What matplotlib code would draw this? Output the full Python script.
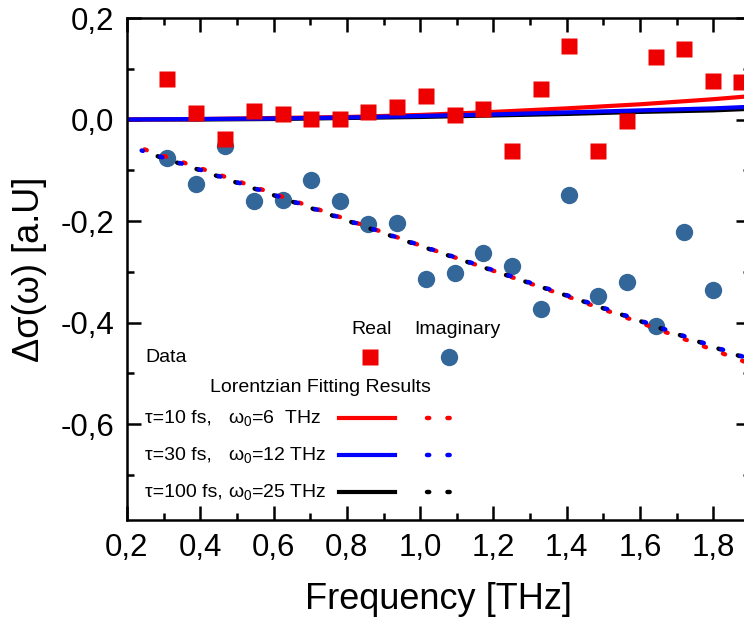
import matplotlib
matplotlib.use('Agg')
import matplotlib.pyplot as plt
from matplotlib.lines import Line2D
from matplotlib.ticker import MultipleLocator, FuncFormatter

plt.rcParams['font.family'] = ['Liberation Sans', 'DejaVu Sans']
plt.rcParams['mathtext.fontset'] = 'custom'
plt.rcParams['mathtext.rm'] = 'Liberation Sans'
plt.rcParams['mathtext.it'] = 'Liberation Sans'

#--- measured data ---
freq = [0.309, 0.388, 0.467, 0.547, 0.626, 0.702, 0.781, 0.858, 0.937, 1.016,
        1.095, 1.171, 1.250, 1.330, 1.406, 1.485, 1.564, 1.643, 1.720, 1.799, 1.875]
real_data = [0.079, 0.012, -0.039, 0.016, 0.010, 0.002, 0.002, 0.014, 0.024, 0.046,
             0.008, 0.021, -0.062, 0.060, 0.144, -0.063, -0.003, 0.123, 0.139, 0.075, 0.074]
imag_freq = freq[:20]
imag_data = [-0.075, -0.127, -0.052, -0.160, -0.158, -0.119, -0.161, -0.206, -0.204, -0.315,
             -0.302, -0.263, -0.288, -0.373, -0.148, -0.348, -0.321, -0.406, -0.221, -0.335]

#--- Lorentzian fits ---
fit_x_re = [0.2, 0.4, 0.6, 0.8, 1.0, 1.2, 1.4, 1.6, 1.8, 1.9]
fit_re_10 = [0.000, 0.001, 0.003, 0.005, 0.009, 0.015, 0.022, 0.030, 0.040, 0.046]
fit_re_30 = [0.000, 0.001, 0.002, 0.004, 0.007, 0.010, 0.014, 0.018, 0.022, 0.025]
fit_re_100 = [0.000, 0.000, 0.001, 0.003, 0.005, 0.008, 0.011, 0.015, 0.018, 0.021]

fit_x_im = [0.24, 0.4, 0.6, 0.8, 1.0, 1.2, 1.4, 1.6, 1.8, 1.9]
fit_im_10 = [-0.057, -0.096, -0.146, -0.197, -0.248, -0.298, -0.348, -0.400, -0.454, -0.481]
fit_im_30 = [-0.061, -0.099, -0.148, -0.198, -0.248, -0.297, -0.346, -0.396, -0.447, -0.472]
fit_im_100 = [-0.062, -0.100, -0.149, -0.199, -0.249, -0.298, -0.347, -0.397, -0.448, -0.473]

row_tau = ['τ=10 fs,', 'τ=30 fs,', 'τ=100 fs,']
row_w0 = [r'ω$_0$=6  THz', r'ω$_0$=12 THz', r'ω$_0$=25 THz']
fit_colors = ['#ff0000', '#0000ff', '#000000']

RED = '#ee0000'
STEEL = '#336699'
DOT = (0.5, 4.1)

fig = plt.figure(figsize=(7.44, 6.21), dpi=100)
ax = fig.add_axes([127/744, 1 - 520/621, 623/744, 502/621])

#--- real part fits (solid) ---
ax.plot(fit_x_re, fit_re_100, color='black', lw=3, zorder=2)
ax.plot(fit_x_re, fit_re_10, color='#ff0000', lw=3, zorder=2)
ax.plot(fit_x_re, fit_re_30, color='#0000ff', lw=3, zorder=2)

#--- imaginary part fits (dotted) ---
ax.plot(fit_x_im, fit_im_100, color='black', lw=3.2, ls=(0.8, DOT),
        dash_capstyle='round', zorder=3)
ax.plot(fit_x_im, fit_im_10, color='#ff0000', lw=3.2, ls=(-0.7, DOT),
        dash_capstyle='round', zorder=3)
ax.plot(fit_x_im, fit_im_30, color='#0000ff', lw=3.2, ls=(0.2, DOT),
        dash_capstyle='round', zorder=3)

ax.plot(freq, real_data, 's', color=RED, ms=11, mec='none', zorder=4)
ax.plot(imag_freq, imag_data, 'o', color=STEEL, ms=12.5, mec='none', zorder=1)

ax.set_xlim(0.2, 1.9)
ax.set_ylim(-0.789, 0.2)
ax.xaxis.set_major_locator(MultipleLocator(0.2))
ax.xaxis.set_minor_locator(MultipleLocator(0.1))
ax.yaxis.set_major_locator(MultipleLocator(0.2))
ax.yaxis.set_minor_locator(MultipleLocator(0.1))
comma = FuncFormatter(lambda v, p: ('%.1f' % v).replace('.', ',').replace('-0,0', '0,0'))
ax.xaxis.set_major_formatter(comma)
ax.yaxis.set_major_formatter(comma)
ax.tick_params(which='both', direction='in', top=True, right=True, width=1.8)
ax.tick_params(which='major', length=10, labelsize=22.5, pad=9)
ax.tick_params(which='minor', length=5)
for s in ax.spines.values():
    s.set_linewidth(1.8)

ax.set_xlabel('Frequency [THz]', fontsize=26, labelpad=14)
ax.set_ylabel('Δσ(ω) [a.U]', fontsize=26, labelpad=10)

#--- hand made legend ---
tr = ax.transAxes
ax.text(0.392, 0.380, 'Real', transform=tr, fontsize=14, ha='center', va='center')
ax.text(0.530, 0.380, 'Imaginary', transform=tr, fontsize=14, ha='center', va='center')
ax.text(0.029, 0.323, 'Data', transform=tr, fontsize=14, ha='left', va='center')
ax.add_line(Line2D([0.390], [0.325], transform=tr, marker='s', color=RED, ms=11, mec='none'))
ax.add_line(Line2D([0.517], [0.325], transform=tr, marker='o', color=STEEL, ms=12.5, mec='none'))
ax.text(0.133, 0.263, 'Lorentzian Fitting Results', transform=tr, fontsize=14,
        ha='left', va='center')
for i, (t, w, c) in enumerate(zip(row_tau, row_w0, fit_colors)):
    yy = [0.203, 0.129, 0.056][i]
    ax.text(0.029, yy, t, transform=tr, fontsize=14, ha='left', va='center')
    ax.text(0.162, yy, w, transform=tr, fontsize=14, ha='left', va='center')
    ax.add_line(Line2D([0.340, 0.430], [yy, yy], transform=tr, color=c, lw=3))
    ax.add_line(Line2D([0.481, 0.541], [yy, yy], transform=tr, color=c, lw=3.2,
                       ls=(0, DOT), dash_capstyle='round'))

fig.savefig('out.png', dpi=100)
